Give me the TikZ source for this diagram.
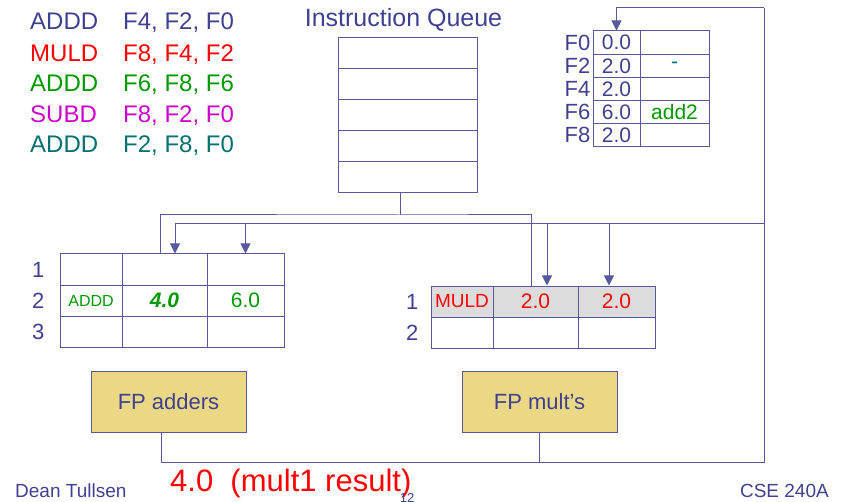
\documentclass[tikz,border=0pt]{standalone}
\usepackage{fontspec}
\setmainfont{Liberation Sans}
\usetikzlibrary{arrows.meta}
\definecolor{ink}{RGB}{64,64,144}
\definecolor{wirec}{RGB}{88,88,156}
\definecolor{grn}{RGB}{0,153,0}
\definecolor{tealish}{RGB}{0,112,112}
\definecolor{magent}{RGB}{204,0,204}
\definecolor{khaki}{RGB}{234,216,132}
\definecolor{cellgray}{RGB}{220,220,220}
\newcommand{\fsz}[1]{\fontsize{#1}{#1}\selectfont}
\begin{document}
\begin{tikzpicture}[x=1pt, y=-1pt, font=\fsz{21}, text=ink,
    wire/.style={draw=wirec, line width=1pt},
    arr/.style={wire, -{Triangle[width=10pt,length=10pt]}},
    cell/.style={draw=wirec, line width=1pt, inner sep=0pt, minimum height=31pt},
    unit/.style={draw=wirec, line width=1pt, fill=khaki, minimum width=155pt,
        minimum height=61pt, font=\fsz{22}}]
\useasboundingbox (0,0) rectangle (850,502);

% instruction sequence
\foreach \i/\c/\op/\args/\y in {1/ink/ADDD/{F4, F2, F0}/30, 2/red/MULD/{F8, F4, F2}/61.5,
    3/grn/ADDD/{F6, F8, F6}/92, 4/magent/SUBD/{F8, F2, F0}/122.5, 5/tealish/ADDD/{F2, F8, F0}/153} {
  \node[anchor=base west, inner sep=0pt, text=\c, font=\fsz{24}] (op\i) at (30,\y) {\op};
  \node[anchor=base west, inner sep=0pt, text=\c, font=\fsz{24}] (args\i) at (123,\y) {\args};
}

% instruction queue
\node[anchor=base, inner sep=0pt, font=\fsz{25}] (iqlabel) at (403.5,27) {Instruction Queue};
\foreach \i in {1,...,5}
  \node[cell, minimum width=139pt] (q\i) at (407.5,{22.5+31*\i}) {};

% register file
\foreach \i/\r/\v/\t/\tc in {0/F0/0.0//ink, 1/F2/2.0/-/tealish, 2/F4/2.0//ink, 3/F6/6.0/add2/grn, 4/F8/2.0//ink} {
  \node[cell, minimum width=47pt, minimum height=23.2pt] (rv\i) at (616.5,{42.6+23.2*\i}) {\v};
  \node[cell, minimum width=69pt, minimum height=23.2pt, text=\tc] (rt\i) at (674.5,{42.6+23.2*\i}) {\t};
  \node[anchor=east, inner sep=2pt, font=\fsz{22}] (rn\i) at (rv\i.west) {\r};
}

% adder reservation stations
\foreach \r in {1,2,3} {
  \foreach \c/\x/\w in {1/91/62, 2/164.5/85, 3/245.5/77}
    \node[cell, minimum width=\w pt] (add-\r-\c) at (\x,{238.5+31*\r}) {};
  \node[anchor=east, inner sep=0pt, font=\fsz{22}] (addn\r) at ([xshift=-15pt]add-\r-1.west) {\r};
}
\node[text=grn, font=\fsz{16}] (addop) at (add-2-1) {ADDD};
\node[text=grn, font=\fsz{21}\bfseries\itshape] (addvj) at (add-2-2) {4.0};
\node[text=grn] (addvk) at (add-2-3) {6.0};

% multiplier reservation stations
\foreach \r/\f in {1/cellgray, 2/white} {
  \foreach \c/\x/\w in {1/462/62, 2/535.5/85, 3/616.5/77}
    \node[cell, fill=\f, minimum width=\w pt] (mul-\r-\c) at (\x,{270.5+31*\r}) {};
  \node[anchor=east, inner sep=0pt, font=\fsz{22}] (muln\r) at ([xshift=-12pt]mul-\r-1.west) {\r};
}
\node[text=red, font=\fsz{19}] (mulop) at (mul-1-1) {MULD};
\node[text=red] (mulvj) at (mul-1-2) {2.0};
\node[text=red] (mulvk) at (mul-1-3) {2.0};

% functional units
\node[unit] (fpadd) at (168.5,401.5) {FP adders};
\node[unit] (fpmul) at (539.5,401.5) {FP mult’s};

% buses
\coordinate (iqbus) at (400,215);
\coordinate (cdb) at (764,224);
\coordinate (cdbtop) at (764,8);
\coordinate (cdbbot) at (764,462);
\coordinate (issA) at ([xshift=-4.5pt]add-1-2.north);
\coordinate (issM) at ([xshift=-4.5pt]mul-1-2.north);
\coordinate (tapA) at ([xshift=10.5pt]add-1-2.north);
\coordinate (tapM) at ([xshift=11.5pt]mul-1-2.north);
\coordinate (tapN) at ([xshift=-7.5pt]mul-1-3.north);
\coordinate (outA) at ([xshift=-7.5pt]fpadd.south);

\draw[wire] ([xshift=-7.5pt]q5.south) -- (iqbus);
\draw[wire] (issA) |- (iqbus) -| (issM);
\draw[wire] (outA) |- (cdbbot) -- (cdbtop);
\draw[wire] (fpmul.south) -- (fpmul.south |- cdbbot);
\draw[arr] (cdbtop) -| (rv0.north);
\draw[arr] (cdb) -| (tapA);
\draw[arr] (add-1-3.north |- cdb) -- (add-1-3.north);
\draw[arr] (tapM |- cdb) -- (tapM);
\draw[arr] (tapN |- cdb) -- (tapN);

% result and footer
\node[anchor=base west, inner sep=0pt, text=red, font=\fsz{31}] (result) at (170,491) {4.0~~(mult1 result)};
\node[anchor=base west, inner sep=0pt, font=\fsz{19}] (author) at (15,497) {Dean Tullsen};
\node[anchor=base east, inner sep=0pt, font=\fsz{19}] (course) at (829,497) {CSE 240A};
\node[anchor=base, inner sep=0pt, font=\fsz{13}] (page) at (407,502) {12};
\end{tikzpicture}
\end{document}
